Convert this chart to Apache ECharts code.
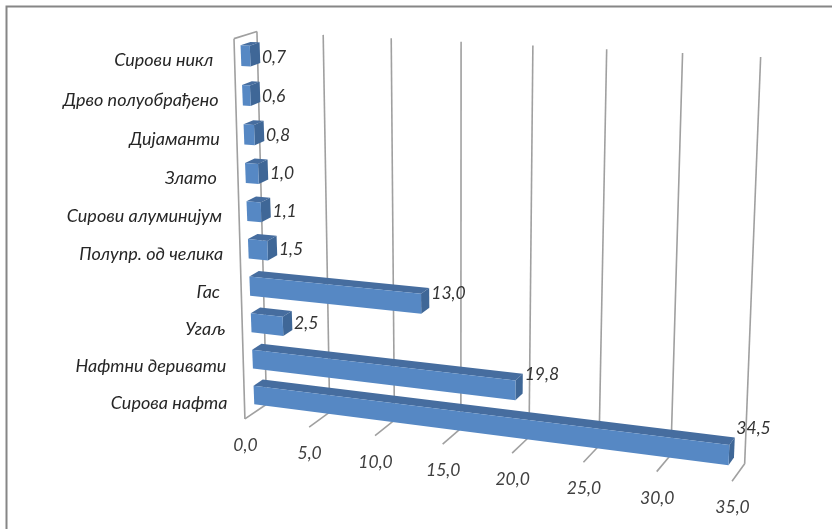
<!DOCTYPE html>
<html>
<head>
<meta charset="utf-8">
<style>html,body{margin:0;padding:0;background:#fff}#chart{width:832px;height:529px}</style>
<script src="https://cdn.jsdelivr.net/npm/echarts@6/dist/echarts.min.js"></script>
</head>
<body>
<div id="chart"></div>
<script>
// Export structure, bottom row first
const categories = ['Сирова нафта', 'Нафтни деривати', 'Угаљ', 'Гас ', 'Полупр. од челика',
  'Сирови алуминијум', 'Злато ', 'Дијаманти', 'Дрво полуобрађено', 'Сирови никл '];
const shares = [34.5, 19.8, 2.5, 13.0, 1.5, 1.1, 1.0, 0.8, 0.6, 0.7];
const tickValues = [0, 5, 10, 15, 20, 25, 30, 35];
const axisMax = 35;
const barDepth = [0.4, 0.86];
const barFill = 0.52;

// 3x4 perspective cameras for the box (value share, height, depth), last term fixed at 1
const wallCamera = [422.12, -22.39, 27.24, 244.92, 19.66, -382.15, -6.09, 418.89, -0.08878, -0.04902, 0.02112];
const barCamera = [415.87, -28.86, 25.14, 246.53, 18.51, -382.19, -6.30, 418.60, -0.09373, -0.05965, 0.01948];

const makeProjector = cam => (u, w, d) => {
  const h = cam[8] * u + cam[9] * w + cam[10] * d + 1;
  return [(cam[0] * u + cam[1] * w + cam[2] * d + cam[3]) / h,
          (cam[4] * u + cam[5] * w + cam[6] * d + cam[7]) / h];
};
const project = makeProjector(wallCamera);
const projectBar = makeProjector(barCamera);

// Grid pixels from the hidden axes -> fractions of the plot box
function toBox(params, api, value, catPos) {
  const cs = params.coordSys;
  const p = api.coord([value, catPos]);
  return [(p[0] - cs.x) / cs.width, 1 - (p[1] - cs.y) / cs.height];
}
const wallStroke = { stroke: '#a0a0a0', lineWidth: 1.6, fill: null };
const fmt = v => v.toFixed(1).replace('.', ',');
const fontFamily = 'Lato, "Open Sans", "Noto Sans", sans-serif';
const labelFont = 'italic 18px ' + fontFamily;
const valueFont = 'italic 17.5px ' + fontFamily;

function renderWall(params, api) {
  const value = api.value(0);
  const [u] = toBox(params, api, value, 0);
  const lineFrom = (a, b) => ({ type: 'line', shape: { x1: a[0], y1: a[1], x2: b[0], y2: b[1] }, style: wallStroke, silent: true });
  const kids = [
    lineFrom(project(u, 0, 0), project(u, 0, 1)),
    lineFrom(project(u, 0, 1), project(u, 1, 1))
  ];
  if (value === 0) {
    kids.push(lineFrom(project(0, 0, 0), project(0, 1, 0)));
    kids.push(lineFrom(project(0, 1, 0), project(0, 1, 1)));
  }
  const t = project(u, 0, 0);
  kids.push({ type: 'text', style: { text: fmt(value), x: t[0] + 0.5, y: t[1] + 26.5, align: 'center', verticalAlign: 'middle', font: valueFont, fill: '#404040' } });
  return { type: 'group', children: kids };
}

function renderBar(params, api) {
  const idx = params.dataIndex;
  const v = api.value(0);
  const band = api.size([0, 1])[1] / params.coordSys.height;
  const [u, c] = toBox(params, api, v, idx);
  const bot = c - band * barFill / 2, top = c + band * barFill / 2;
  const [d0, d1] = barDepth;
  const poly = (pts, fill) => ({ type: 'polygon', shape: { points: pts }, style: { fill, stroke: null } });
  const frontFace = poly([projectBar(0, bot, d0), projectBar(u, bot, d0), projectBar(u, top, d0), projectBar(0, top, d0)], '#5688c4');
  const topFace = poly([projectBar(0, top, d0), projectBar(u, top, d0), projectBar(u, top, d1), projectBar(0, top, d1)], '#466d9f');
  const sideFace = poly([projectBar(u, bot, d0), projectBar(u, bot, d1), projectBar(u, top, d1), projectBar(u, top, d0)], '#3f6797');
  return { type: 'group', children: [topFace, sideFace, frontFace] };
}

function renderLabels(params, api) {
  const idx = params.dataIndex;
  const v = api.value(0);
  const [u, c] = toBox(params, api, v, idx);
  const tail = projectBar(u, c, barDepth[1]);
  const wall = project(0, c, 0);
  return {
    type: 'group',
    children: [
      { type: 'text', style: { text: fmt(v), x: tail[0] + 2, y: tail[1] + 5 - 0.7 * v, align: 'left', verticalAlign: 'middle', font: valueFont, fill: '#333333' } },
      { type: 'text', style: { text: categories[idx], x: wall[0] - 17, y: wall[1] + 2, align: 'right', verticalAlign: 'middle', font: labelFont, fill: '#262626' } }
    ]
  };
}

const chart = echarts.init(document.getElementById('chart'), null, { renderer: 'canvas' });
chart.setOption({
  animation: false,
  backgroundColor: '#ffffff',
  graphic: [{ type: 'rect', shape: { x: 6.5, y: 6.5, width: 900, height: 900 }, style: { fill: null, stroke: '#868686', lineWidth: 2 }, silent: true, z: 0 }],
  grid: { left: 100, right: 100, top: 100, bottom: 100 },
  xAxis: { type: 'value', min: 0, max: axisMax, interval: 5, show: false },
  yAxis: { type: 'category', data: categories, show: false },
  series: [
    { type: 'custom', name: 'Зидови', coordinateSystem: 'cartesian2d', clip: false, z: 1, renderItem: renderWall,
      encode: { x: 0 }, data: tickValues.map(v => [v]), silent: true },
    { type: 'custom', name: 'Удео', coordinateSystem: 'cartesian2d', clip: false, z: 2, renderItem: renderBar,
      encode: { x: 0 }, data: shares.map(v => [v]), silent: true },
    { type: 'custom', name: 'Натписи', coordinateSystem: 'cartesian2d', clip: false, z: 3, renderItem: renderLabels,
      encode: { x: 0 }, data: shares.map(v => [v]), silent: true }
  ]
});
</script>
</body>
</html>
